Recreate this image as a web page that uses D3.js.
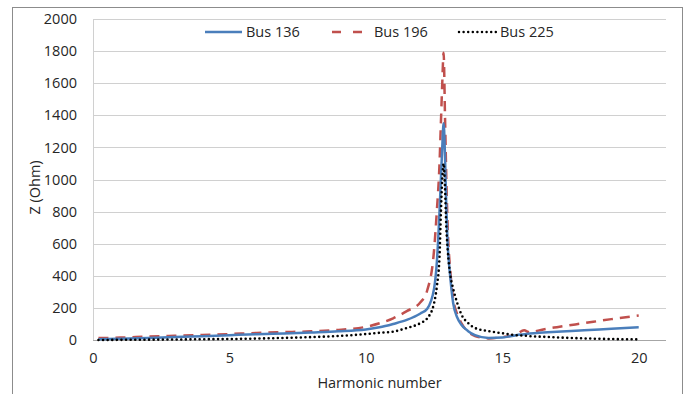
<!DOCTYPE html>
<html>
<head>
<meta charset="utf-8">
<script src="https://cdn.jsdelivr.net/npm/d3@7"></script>
<style>
  body { margin: 0; background: #fff; }
  text { font-family: "Open Sans", sans-serif; fill: #262626; }
</style>
</head>
<body>
<svg id="chart"></svg>
<script>
// harmonic numbers (x) shared by all series
const harmonics = [0.2, 1, 2, 3, 4, 5, 6, 7, 8, 9, 10, 10.5, 11, 11.5, 12, 12.25, 12.5, 12.6, 12.7, 12.75, 12.8, 12.85,
  12.9, 12.95, 13, 13.1, 13.2, 13.35, 13.5, 13.75, 14, 14.5, 15, 15.5, 15.8, 16, 16.5, 17, 18, 19, 20];

const bus136 = [5, 8, 13, 18, 24, 30, 36, 41, 47, 54, 66, 79, 100, 125, 165, 195, 320, 480, 800, 1000, 1200, 1350,
  1150, 820, 600, 380, 230, 140, 95, 55, 30, 12, 15, 30, 36, 40, 46, 51, 60, 70, 79];
const bus196 = [12, 15, 21, 26, 31, 37, 44, 49, 54, 63, 82, 104, 135, 180, 235, 310, 560, 800, 1100, 1350, 1600, 1790,
  1400, 1000, 700, 420, 260, 160, 105, 50, 25, 10, 18, 35, 60, 48, 66, 80, 105, 130, 152];
const bus225 = [0, 1, 2, 3, 5, 6, 9, 13, 18, 25, 37, 45, 52, 75, 105, 135, 230, 330, 520, 790, 1000, 1100,
  950, 700, 560, 400, 320, 230, 160, 105, 75, 55, 42, 30, 27, 24, 20, 16, 10, 6, 4];

const seriesNames = ["Bus 136", "Bus 196", "Bus 225"];
const xTicks = [0, 5, 10, 15, 20];
const yTicks = [0, 200, 400, 600, 800, 1000, 1200, 1400, 1600, 1800, 2000];

const W = 688, H = 394;
const margin = { top: 19, right: 22, bottom: 54, left: 93 };
const width = W - margin.left - margin.right,
  height = H - margin.top - margin.bottom;

let svg = d3.select("#chart").attr("width", W).attr("height", H);

// outer chart border
svg.append("rect")
  .attr("x", 12.5).attr("y", 7.5)
  .attr("width", 670).attr("height", 400)
  .attr("fill", "none").attr("stroke", "#8c8c8c");

let g = svg.append("g").attr("transform", "translate(" + margin.left + "," + margin.top + ")");

let xScale = d3.scaleLinear().domain([0, 21]).range([0, width]),
  yScale = d3.scaleLinear().domain([0, 2000]).range([height, 0]);

// gridlines
g.append("g")
  .selectAll("line")
  .data(yTicks)
  .enter()
  .append("line")
  .attr("x1", 0).attr("x2", width)
  .attr("y1", (d) => Math.round(yScale(d)) + 0.5)
  .attr("y2", (d) => Math.round(yScale(d)) + 0.5)
  .attr("stroke", (d) => (d === 0 ? "#a6a6a6" : "#d0d0d0"));

g.append("line")
  .attr("x1", 0.5).attr("x2", 0.5)
  .attr("y1", 0).attr("y2", height)
  .attr("stroke", "#d0d0d0");

// axes (labels only)
let yAxis = g.append("g")
  .call(d3.axisLeft(yScale).tickValues(yTicks).tickFormat(d3.format("d")).tickSize(0).tickPadding(16));
yAxis.select(".domain").remove();
yAxis.selectAll("text").attr("font-size", "14.5px").attr("fill", "#262626");

let xAxis = g.append("g")
  .attr("transform", "translate(0," + height + ")")
  .call(d3.axisBottom(xScale).tickValues(xTicks).tickFormat(d3.format("d")).tickSize(0).tickPadding(13));
xAxis.select(".domain").remove();
xAxis.selectAll("text").attr("font-size", "14.5px").attr("fill", "#262626");

g.append("text")
  .attr("x", width / 2)
  .attr("y", height + 48)
  .attr("text-anchor", "middle")
  .attr("font-size", "14.5px")
  .text("Harmonic number");

g.append("text")
  .attr("transform", "rotate(-90)")
  .attr("x", -(yScale(1000) + 8))
  .attr("y", -53)
  .attr("text-anchor", "middle")
  .attr("font-size", "14.5px")
  .text("Z (Ohm)");

// series
const styles = [
  { color: "#4a7ebb", dash: null, cap: "butt" },
  { color: "#c0504d", dash: "10,7", cap: "butt" },
  { color: "#000000", dash: "0,4.6", cap: "round" },
];
const values = [bus136, bus196, bus225];

let line = d3.line()
  .x((d) => xScale(d[0]))
  .y((d) => yScale(d[1]))
  .curve(d3.curveMonotoneX);

// draw in order: red dashed, blue, black dotted
[1, 0, 2].forEach((i) => {
  g.append("path")
    .datum(harmonics.map((h, k) => [h, values[i][k]]))
    .attr("fill", "none")
    .attr("stroke", styles[i].color)
    .attr("stroke-width", i === 2 ? 2.6 : 2.5)
    .attr("stroke-linecap", styles[i].cap)
    .attr("stroke-dasharray", styles[i].dash)
    .attr("d", line);
});

// legend
const legendX = [205, 332, 459];
let legend = svg.append("g").attr("transform", "translate(0,32)");
seriesNames.forEach((name, i) => {
  let sampleW = i === 1 ? 30 : 37;
  legend.append("line")
    .attr("x1", legendX[i]).attr("x2", legendX[i] + sampleW)
    .attr("y1", 0).attr("y2", 0)
    .attr("stroke", styles[i].color)
    .attr("stroke-width", 2.5)
    .attr("stroke-linecap", styles[i].cap)
    .attr("stroke-dasharray", i === 1 ? "9,12" : styles[i].dash);
  legend.append("text")
    .attr("x", legendX[i] + (i === 1 ? 42 : 41))
    .attr("y", 5)
    .attr("font-size", "14.5px")
    .text(name);
});
</script>
</body>
</html>
